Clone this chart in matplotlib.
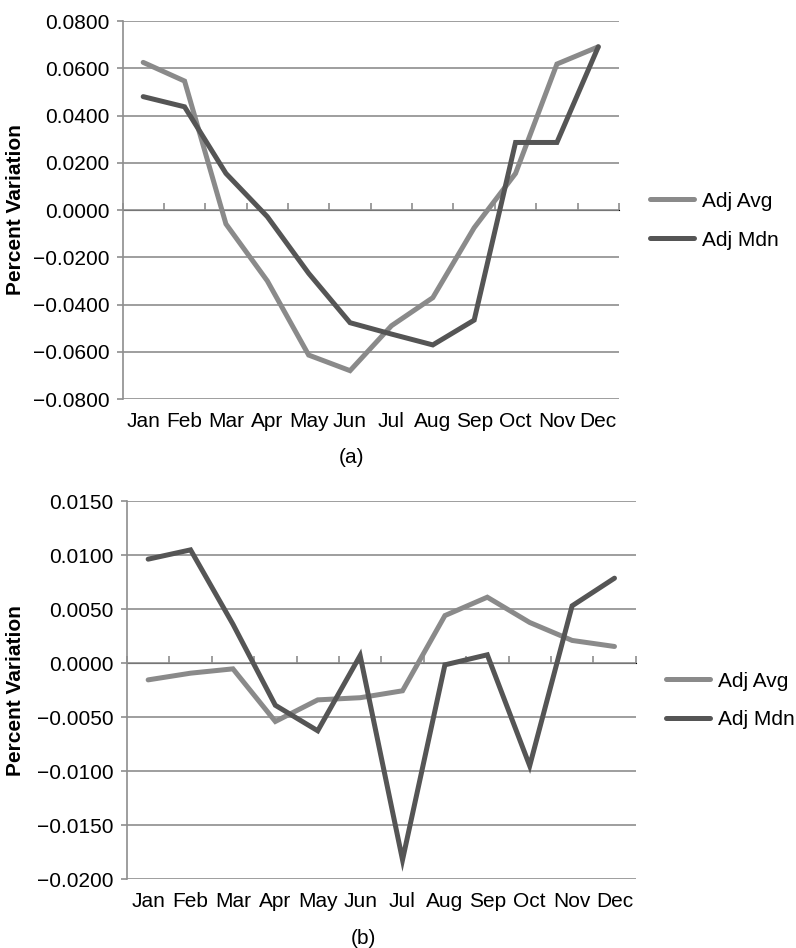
import numpy as np
import matplotlib as mpl
mpl.use('agg')
from matplotlib import pyplot as plt
from matplotlib.ticker import FuncFormatter

months = ['Jan', 'Feb', 'Mar', 'Apr', 'May', 'Jun',
          'Jul', 'Aug', 'Sep', 'Oct', 'Nov', 'Dec']

# (a)
avg_a = [0.0625, 0.0546, -0.0059, -0.0300, -0.0614, -0.0680,
         -0.0490, -0.0371, -0.0075, 0.0155, 0.0618, 0.0691]
mdn_a = [0.0480, 0.0437, 0.0155, -0.0028, -0.0268, -0.0477,
         -0.0525, -0.0571, -0.0466, 0.0286, 0.0286, 0.0691]

# (b)
avg_b = [-0.00155, -0.00093, -0.00053, -0.0054, -0.0034, -0.0032,
         -0.00256, 0.0044, 0.0061, 0.00376, 0.0021, 0.00154]
mdn_b = [0.00962, 0.01048, 0.0036, -0.0039, -0.00626, 0.0007,
         -0.0182, -0.00016, 0.00077, -0.0095, 0.0053, 0.00786]

AVG_C = '#8a8a8a'
MDN_C = '#555555'
GRID_C = '#8e8e8e'

plt.rcParams['font.family'] = ['Liberation Sans', 'DejaVu Sans']
plt.rcParams['font.size'] = 15


def fmt(v, pos):
    return ('%.4f' % v).replace('-', '\u2212')


def draw(ax, avg, mdn, lo, hi, step, label_x, leg_pos, tag, tag_xy):
    x = np.arange(len(months))
    ax.set_xlim(-0.5, len(months) - 0.5)
    ax.set_ylim(lo, hi)
    yt = np.arange(lo, hi + step / 2, step)
    ax.set_yticks(yt)
    ax.yaxis.set_major_formatter(FuncFormatter(fmt))
    for v in yt:
        ax.axhline(v, color=GRID_C, lw=1.2, zorder=1)
    for s in ['top', 'right', 'bottom']:
        ax.spines[s].set_visible(False)
    ax.spines['left'].set_color(GRID_C)
    ax.spines['left'].set_linewidth(1.2)
    ax.tick_params(axis='y', length=4.5, width=1.2, color=GRID_C, pad=5)
    ax.set_xticks(x)
    ax.set_xticklabels(months)
    ax.tick_params(axis='x', length=0, pad=9)

    # little ticks along the zero line
    zpos = (0 - lo) / (hi - lo)
    sec = ax.secondary_xaxis(zpos)
    sec.set_xticks(np.arange(-0.5, len(months), 1.0))
    sec.set_xticklabels([])
    sec.tick_params(direction='out', length=5, width=1.2, color=GRID_C)
    sec.spines['bottom'].set_visible(False)

    ax.plot(x, avg, color=AVG_C, lw=3.6, label='Adj Avg', zorder=3,
            solid_capstyle='round', solid_joinstyle='miter')
    ax.plot(x, mdn, color=MDN_C, lw=3.6, label='Adj Mdn', zorder=3,
            solid_capstyle='round', solid_joinstyle='miter')
    ax.set_ylabel('Percent Variation', fontweight='bold')
    ax.yaxis.set_label_coords(label_x, 0.5)
    ax.legend(loc='center left', bbox_to_anchor=leg_pos, frameon=False,
              handlelength=2.1, handletextpad=0.4, labelspacing=0.95,
              borderaxespad=0, borderpad=0)
    ax.text(tag_xy[0], tag_xy[1], tag, transform=ax.transAxes,
            ha='center', va='center')


fig = plt.figure(figsize=(7.96, 9.48), dpi=100)
ax1 = fig.add_axes([0.1539, 0.5791, 0.6237, 0.3987])
ax2 = fig.add_axes([0.1595, 0.0725, 0.6391, 0.3990])

draw(ax1, avg_a, mdn_a, -0.08, 0.08, 0.02, -0.196, (1.063, 0.472), '(a)', (0.4616, -0.156))
draw(ax2, avg_b, mdn_b, -0.02, 0.015, 0.005, -0.2005, (1.06, 0.4726), '(b)', (0.464, -0.156))

plt.savefig('out.png', dpi=100)
